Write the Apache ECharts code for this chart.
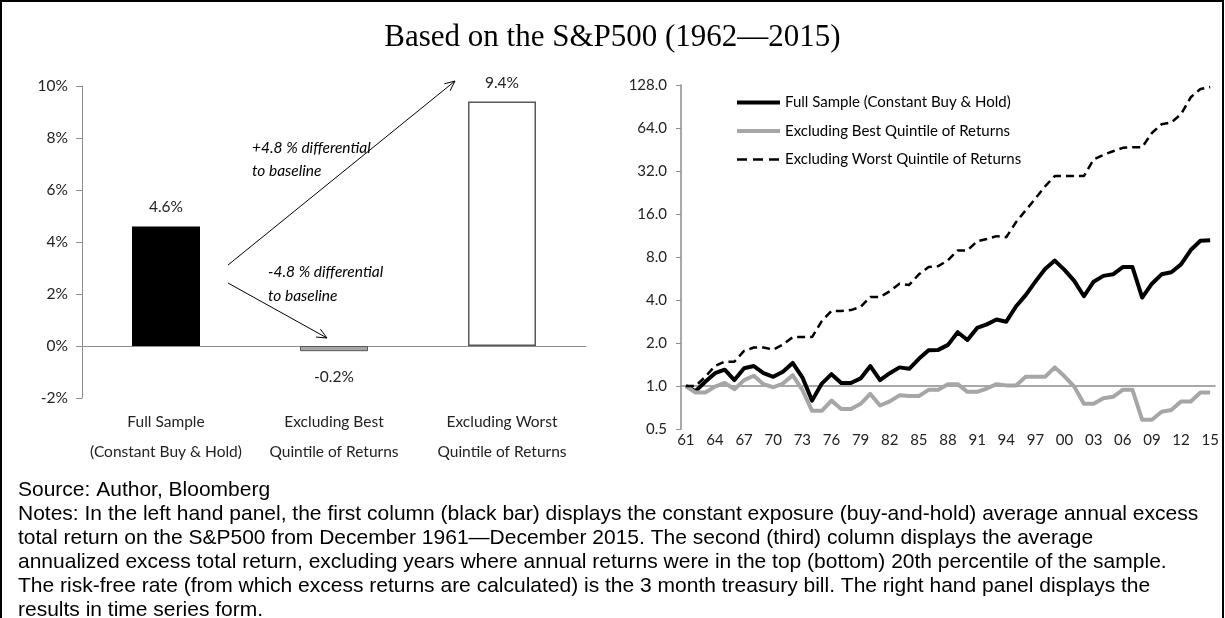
<!DOCTYPE html>
<html>
<head>
<meta charset="utf-8">
<title>Based on the S&amp;P500 (1962-2015)</title>
<script src="https://cdn.jsdelivr.net/npm/echarts@6/dist/echarts.min.js"></script>
<style>
    html, body { margin: 0; padding: 0; background: #fff; }
    #chart { width: 1225px; height: 618px; }
</style>
</head>
<body>
<div id="chart"></div>
<script>
    // left panel: average annual excess return (%)
    const barCategories = ['Full Sample\n(Constant Buy & Hold)', 'Excluding Best\nQuintile of Returns', 'Excluding Worst\nQuintile of Returns'];
    const barValues = [4.6, -0.2, 9.4];

    // right panel: growth of 1 (log scale)
    const years = ['61', '62', '63', '64', '65', '66', '67', '68', '69', '70',
        '71', '72', '73', '74', '75', '76', '77', '78', '79', '80',
        '81', '82', '83', '84', '85', '86', '87', '88', '89', '90',
        '91', '92', '93', '94', '95', '96', '97', '98', '99', '00',
        '01', '02', '03', '04', '05', '06', '07', '08', '09', '10',
        '11', '12', '13', '14', '15'];
    const fullSample = [1.00, 0.92, 1.07, 1.23, 1.30, 1.10, 1.33, 1.38, 1.23, 1.16,
        1.26, 1.45, 1.15, 0.79, 1.04, 1.21, 1.05, 1.05, 1.13, 1.38,
        1.10, 1.23, 1.35, 1.32, 1.55, 1.78, 1.79, 1.94, 2.38, 2.10,
        2.55, 2.70, 2.92, 2.82, 3.60, 4.33, 5.38, 6.60, 7.55, 6.50,
        5.45, 4.25, 5.37, 5.90, 6.05, 6.80, 6.80, 4.16, 5.20, 6.05,
        6.25, 7.10, 8.95, 10.4, 10.5];
    const exclBest = [1.00, 0.90, 0.90, 0.99, 1.05, 0.95, 1.10, 1.18, 1.03, 0.98,
        1.04, 1.19, 0.94, 0.67, 0.67, 0.79, 0.69, 0.69, 0.75, 0.88,
        0.73, 0.78, 0.86, 0.85, 0.85, 0.94, 0.94, 1.03, 1.03, 0.91,
        0.91, 0.96, 1.03, 1.01, 1.01, 1.16, 1.16, 1.16, 1.35, 1.17,
        0.99, 0.75, 0.75, 0.82, 0.84, 0.94, 0.94, 0.58, 0.58, 0.66,
        0.68, 0.78, 0.78, 0.90, 0.90];
    const exclWorst = [1.00, 1.00, 1.16, 1.38, 1.48, 1.48, 1.76, 1.86, 1.86, 1.80,
        1.95, 2.20, 2.20, 2.20, 2.85, 3.35, 3.35, 3.40, 3.58, 4.20,
        4.20, 4.60, 5.20, 5.10, 6.05, 6.80, 6.90, 7.60, 8.90, 8.90,
        10.3, 10.7, 11.2, 11.0, 14.0, 17.0, 20.5, 25.0, 29.5, 29.5,
        29.5, 29.5, 38.5, 41.5, 44.0, 46.5, 47.0, 47.0, 59.0, 68.0,
        70.0, 80.0, 105, 120, 124];

    const notes = [
        'Source: Author, Bloomberg',
        'Notes: In the left hand panel, the first column (black bar) displays the constant exposure (buy-and-hold) average annual excess',
        'total return on the S&P500 from December 1961\u2014December 2015. The second (third) column displays the average',
        'annualized excess total return, excluding years where annual returns were in the top (bottom) 20th percentile of the sample.',
        'The risk-free rate (from which excess returns are calculated) is the 3 month treasury bill. The right hand panel displays the',
        'results in time series form.'
    ];

    const axisGray = '#8c8c8c';
    const labelFont = 'Lato';

    // thin line with an open arrow head
    function arrow(x1, y1, x2, y2) {
        const a = Math.atan2(y2 - y1, x2 - x1), len = 11, w = 0.42;
        return [
            { type: 'line', shape: { x1: x1, y1: y1, x2: x2, y2: y2 }, style: { stroke: '#000', lineWidth: 1 } },
            {
                type: 'polyline',
                shape: { points: [[x2 - len * Math.cos(a - w), y2 - len * Math.sin(a - w)], [x2, y2], [x2 - len * Math.cos(a + w), y2 - len * Math.sin(a + w)]] },
                style: { stroke: '#000', fill: null, lineWidth: 1 }
            }
        ];
    }

    function note(text, x, y) {
        return { type: 'text', style: { text: text, x: x, y: y, font: 'italic 15.5px Lato', fill: '#000', verticalAlign: 'middle' } };
    }

    const barStyles = [
        { color: '#000' },
        { color: '#a6a6a6', borderColor: '#595959', borderWidth: 1 },
        { color: '#fff', borderColor: '#595959', borderWidth: 1.5 }
    ];

    var option = {
        animation: false,
        title: {
            text: 'Based on the S&P500 (1962\u20142015)',
            left: 'center',
            top: 17,
            textStyle: { fontFamily: 'Liberation Serif', fontSize: 31, fontWeight: 'normal', color: '#000' }
        },
        legend: {
            orient: 'vertical',
            left: 730,
            top: 90,
            itemWidth: 43,
            itemHeight: 14,
            itemGap: 13.5,
            itemStyle: { opacity: 0 },
            textStyle: { fontFamily: labelFont, fontSize: 15, color: '#000' },
            data: [
                { name: 'Full Sample (Constant Buy & Hold)', lineStyle: { width: 4 } },
                { name: 'Excluding Best Quintile of Returns', lineStyle: { width: 4 } },
                { name: 'Excluding Worst Quintile of Returns', lineStyle: { width: 2.5, type: [10, 6] } }
            ]
        },
        grid: [
            { left: 82, right: 639, top: 86, bottom: 220 },
            { left: 681, right: 10, top: 85, bottom: 189 }
        ],
        xAxis: [{
                gridIndex: 0,
                type: 'category',
                data: barCategories,
                axisLine: { lineStyle: { color: axisGray } },
                axisTick: { length: 6, lineStyle: { color: axisGray } },
                axisLabel: { interval: 0, margin: 9, fontFamily: labelFont, fontSize: 15.5, lineHeight: 30, color: '#222' }
            },
            {
                gridIndex: 1,
                type: 'category',
                data: years,
                offset: -43,
                axisLine: { lineStyle: { color: axisGray, width: 1.5 } },
                axisTick: { interval: 2, length: 5, lineStyle: { color: axisGray } },
                axisLabel: { interval: 2, margin: 47, fontFamily: labelFont, fontSize: 15, color: '#222' }
            }
        ],
        yAxis: [{
                gridIndex: 0,
                type: 'value',
                min: -2,
                max: 10,
                interval: 2,
                axisLine: { show: true, lineStyle: { color: axisGray } },
                axisTick: { show: true, length: 6, lineStyle: { color: axisGray } },
                splitLine: { show: false },
                axisLabel: { formatter: '{value}%', margin: 14, fontFamily: labelFont, fontSize: 15.5, color: '#222' }
            },
            {
                gridIndex: 1,
                type: 'log',
                logBase: 2,
                min: 0.5,
                max: 128,
                splitNumber: 8,
                axisLine: { show: true, lineStyle: { color: axisGray, width: 1.5 } },
                axisTick: { show: true, length: 5, lineStyle: { color: axisGray } },
                splitLine: { show: false },
                axisLabel: { formatter: v => v.toFixed(1), margin: 14, fontFamily: labelFont, fontSize: 15, color: '#222' }
            }
        ],
        series: [{
                type: 'bar',
                xAxisIndex: 0,
                yAxisIndex: 0,
                barWidth: 68,
                data: barValues.map((v, i) => ({
                    value: v,
                    itemStyle: barStyles[i],
                    label: v < 0 ? { position: 'bottom', distance: 18 } : { position: 'top', distance: 11 }
                })),
                label: { show: true, formatter: p => p.value.toFixed(1) + '%', fontFamily: labelFont, fontSize: 15.5, color: '#222' }
            },
            {
                name: 'Full Sample (Constant Buy & Hold)',
                type: 'line',
                xAxisIndex: 1,
                yAxisIndex: 1,
                symbol: 'none',
                data: fullSample,
                itemStyle: { color: '#000' },
                lineStyle: { color: '#000', width: 4, join: 'round' }
            },
            {
                name: 'Excluding Best Quintile of Returns',
                type: 'line',
                xAxisIndex: 1,
                yAxisIndex: 1,
                symbol: 'none',
                data: exclBest,
                itemStyle: { color: '#a6a6a6' },
                lineStyle: { color: '#a6a6a6', width: 4, join: 'round' }
            },
            {
                name: 'Excluding Worst Quintile of Returns',
                type: 'line',
                xAxisIndex: 1,
                yAxisIndex: 1,
                symbol: 'none',
                data: exclWorst,
                itemStyle: { color: '#000' },
                lineStyle: { color: '#000', width: 2.5, type: [8, 5] }
            }
        ],
        graphic: [
            { type: 'rect', shape: { x: 1, y: 1, width: 1222, height: 660 }, style: { stroke: '#000', fill: null, lineWidth: 2 } },
            note('+4.8 % differential', 252, 148),
            note('to baseline', 252, 171),
            note('-4.8 % differential', 268, 272),
            note('to baseline', 268, 296),
            ...arrow(228, 265, 455, 81),
            ...arrow(228, 283, 327, 338),
            {
                type: 'text',
                style: { text: notes.join('\n'), x: 18, y: 478, font: '21px "Liberation Sans"', lineHeight: 24, fill: '#000' }
            }
        ]
    };

    const myChart = echarts.init(document.getElementById('chart'));
    myChart.setOption(option);
</script>
</body>
</html>
